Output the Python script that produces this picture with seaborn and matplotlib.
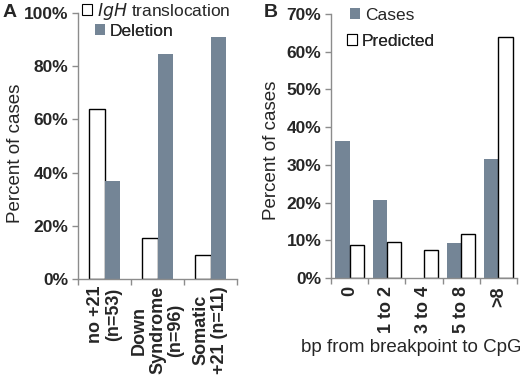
import matplotlib
matplotlib.use("Agg")
import matplotlib.pyplot as plt
import seaborn as sns
import pandas as pd
import numpy as np
from matplotlib.patches import Patch

sns.set_style("white")
plt.rcParams['font.family'] = ['Liberation Sans', 'DejaVu Sans']

# Panel A data
a_categories = ["no +21\n(n=53)", "Down\nSyndrome\n(n=96)", "Somatic\n+21 (n=11)"]
a_series = ["IgH translocation", "Deletion"]
a_igh = [64, 15.5, 9]
a_del = [37, 84.5, 91]
a_yticks = [0, 20, 40, 60, 80, 100]

# Panel B data
b_categories = ["0", "1 to 2", "3 to 4", "5 to 8", ">8"]
b_series = ["Cases", "Predicted"]
b_cases = [36.3, 20.7, 0, 9.4, 31.5]
b_pred = [8.8, 9.5, 7.4, 11.7, 64.0]
b_yticks = [0, 10, 20, 30, 40, 50, 60, 70]

GREY = "#748596"
AXC = "#8c8c8c"
TFS = 12.5
LFS = 13.5

W, H = 520, 376
fig = plt.figure(figsize=(5.2, 3.76), dpi=100)
axA = fig.add_axes([78 / W, 1 - 279 / H, 159 / W, 266 / H])
axB = fig.add_axes([331 / W, 1 - 278 / H, 186 / W, 264 / H])

dfA = pd.DataFrame({
    "cat": a_categories * 2,
    "series": [a_series[0]] * 3 + [a_series[1]] * 3,
    "val": a_igh + a_del,
})
dfB = pd.DataFrame({
    "cat": b_categories * 2,
    "series": [b_series[0]] * 5 + [b_series[1]] * 5,
    "val": b_cases + b_pred,
})

sns.barplot(data=dfA, x="cat", y="val", hue="series", order=a_categories,
            hue_order=a_series, palette={a_series[0]: "white", a_series[1]: GREY},
            width=0.57, ax=axA, legend=False, saturation=1)
sns.barplot(data=dfB, x="cat", y="val", hue="series", order=b_categories,
            hue_order=b_series, palette={b_series[0]: GREY, b_series[1]: "white"},
            width=0.76, ax=axB, legend=False, saturation=1)

for ax in (axA, axB):
    for p in ax.patches:
        fc = p.get_facecolor()
        if fc[0] > 0.95 and fc[1] > 0.95:
            p.set_edgecolor("black")
            p.set_linewidth(1.0)
        else:
            p.set_edgecolor("none")

def style(ax, ylim, yticks, ncat):
    ax.set_ylim(0, ylim)
    ax.set_xlim(-0.5, ncat - 0.5)
    ax.set_yticks(yticks)
    ax.set_yticklabels([f"{t}%" for t in yticks], fontsize=TFS, fontweight="bold")
    for s in ("top", "right"):
        ax.spines[s].set_visible(False)
    for s in ("left", "bottom"):
        ax.spines[s].set_color(AXC)
        ax.spines[s].set_linewidth(1.0)
    ax.tick_params(axis="y", direction="out", length=4, color=AXC, width=1, pad=3, left=True)
    ax.tick_params(axis="x", which="major", length=0, pad=6)
    ax.set_xticks(np.arange(-0.5, ncat, 1.0), minor=True)
    ax.tick_params(axis="x", which="minor", direction="out", length=4, color=AXC, width=1, bottom=True)
    ax.set_xlabel("")
    ax.set_ylabel("")

style(axA, 100, a_yticks, 3)
style(axB, 70, b_yticks, 5)

axA.set_xticks(range(3))
axA.set_xticklabels(a_categories, rotation=90, fontsize=13, fontweight="bold",
                    va="top", ha="center", linespacing=1.1)
axA.tick_params(axis="x", which="major", pad=5)
axB.set_xticks(range(5))
axB.set_xticklabels(b_categories, rotation=90, fontsize=13, fontweight="bold",
                    va="top", ha="center")

fig.text(16 / W, 1 - 153 / H, "Percent of cases", fontsize=LFS, rotation=90,
         ha="center", va="center")
fig.text(272 / W, 1 - 150 / H, "Percent of cases", fontsize=LFS, rotation=90,
         ha="center", va="center")
fig.text(411 / W, 1 - 348 / H, "bp from breakpoint to CpG", fontsize=LFS,
         ha="center", va="center")

# Legends
def lg(ax, handle, label, x, y):
    leg = ax.legend([handle], [label], loc="upper left", bbox_to_anchor=(x, y),
                    bbox_transform=fig.transFigure, frameon=False, fontsize=TFS,
                    handlelength=0.6, handleheight=0.6, handletextpad=0.25,
                    borderpad=0, borderaxespad=0)
    ax.add_artist(leg)
    return leg

white_h = Patch(facecolor="white", edgecolor="black", linewidth=0.8)
grey_h = Patch(facecolor=GREY, edgecolor="none")
lg(axA, white_h, "$\\it{IgH}$ translocation", 82 / W, 1 - 1 / H)
lg(axA, grey_h, "Deletion", 95 / W, 1 - 24 / H)
lg(axB, grey_h, "Cases", 350 / W, 1 - 8 / H)
lg(axB, white_h, "Predicted", 347 / W, 1 - 34 / H)

fig.text(3 / W, 1 - 4 / H, "A", fontsize=14, fontweight="bold", va="top", ha="left")
fig.text(264 / W, 1 - 4 / H, "B", fontsize=14, fontweight="bold", va="top", ha="left")

fig.savefig("out.png", dpi=100)
